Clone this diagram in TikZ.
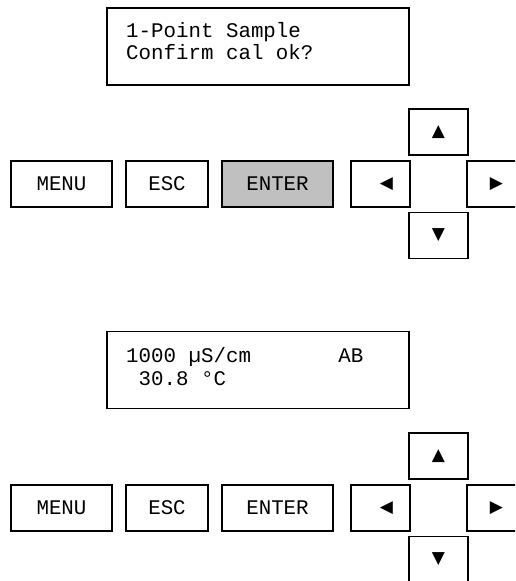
\documentclass[tikz,border=0pt]{standalone}
\usepackage{fontspec}
\newfontfamily\lcdmono{Liberation Mono}
\newfontfamily\symfont{DejaVu Sans}
\begin{document}
\begin{tikzpicture}[x=1pt,y=-1pt,
  lcd/.style={draw, line width=1.6pt, inner sep=0pt, minimum width=302pt, minimum height=77pt},
  lcdtext/.style={anchor=base west, inner sep=0pt, font=\lcdmono\fontsize{20.8}{23}\selectfont},
  btn/.style={draw, line width=1.6pt, inner sep=0pt, minimum height=46pt, font=\lcdmono\fontsize{20.8}{23}\selectfont},
  pressed/.style={btn, fill={rgb,255:red,192;green,192;blue,192}},
  arrowbtn/.style={btn, minimum width=59pt, font=\symfont\fontsize{17}{20}\selectfont}]
\useasboundingbox (0,0) rectangle (515,581);
\clip (0,0) rectangle (515,581);
% ---- panel 1 ----
\node[lcd] (lcdA) at (258,46.5) {};
\node[lcdtext] (a1) at (126,37) {1-Point Sample};
\node[lcdtext] (a2) at (126,59) {Confirm cal ok?};
\node[btn, minimum width=101pt] (menuA) at (61.5,184) {MENU};
\node[btn, minimum width=82pt] (escA) at (167,184) {ESC};
\node[pressed, minimum width=111pt] (enterA) at (277.5,184) {ENTER};
\node[arrowbtn] (leftA) at (380.5,184) {\hspace{12pt}◀};
\node[arrowbtn] (upA) at (438.5,132) {▲};
\node[arrowbtn] (rightA) at (496.5,184) {▶};
\node[arrowbtn] (downA) at (438.5,235.5) {▼};
% ---- panel 2 ----
\node[lcd] (lcdB) at (258,370) {};
\node[lcdtext] (b1) at (126,362) {1000~µS/cm~~~~~~~AB};
\node[lcdtext] (b2) at (126,385) {\hphantom{0}30.8~°C};
\node[btn, minimum width=101pt] (menuB) at (61.5,508) {MENU};
\node[btn, minimum width=82pt] (escB) at (167,508) {ESC};
\node[btn, minimum width=111pt] (enterB) at (277.5,508) {ENTER};
\node[arrowbtn] (leftB) at (380.5,508) {\hspace{12pt}◀};
\node[arrowbtn] (upB) at (438.5,456) {▲};
\node[arrowbtn] (rightB) at (496.5,508) {▶};
\node[arrowbtn] (downB) at (438.5,559.5) {▼};
\end{tikzpicture}
\end{document}
